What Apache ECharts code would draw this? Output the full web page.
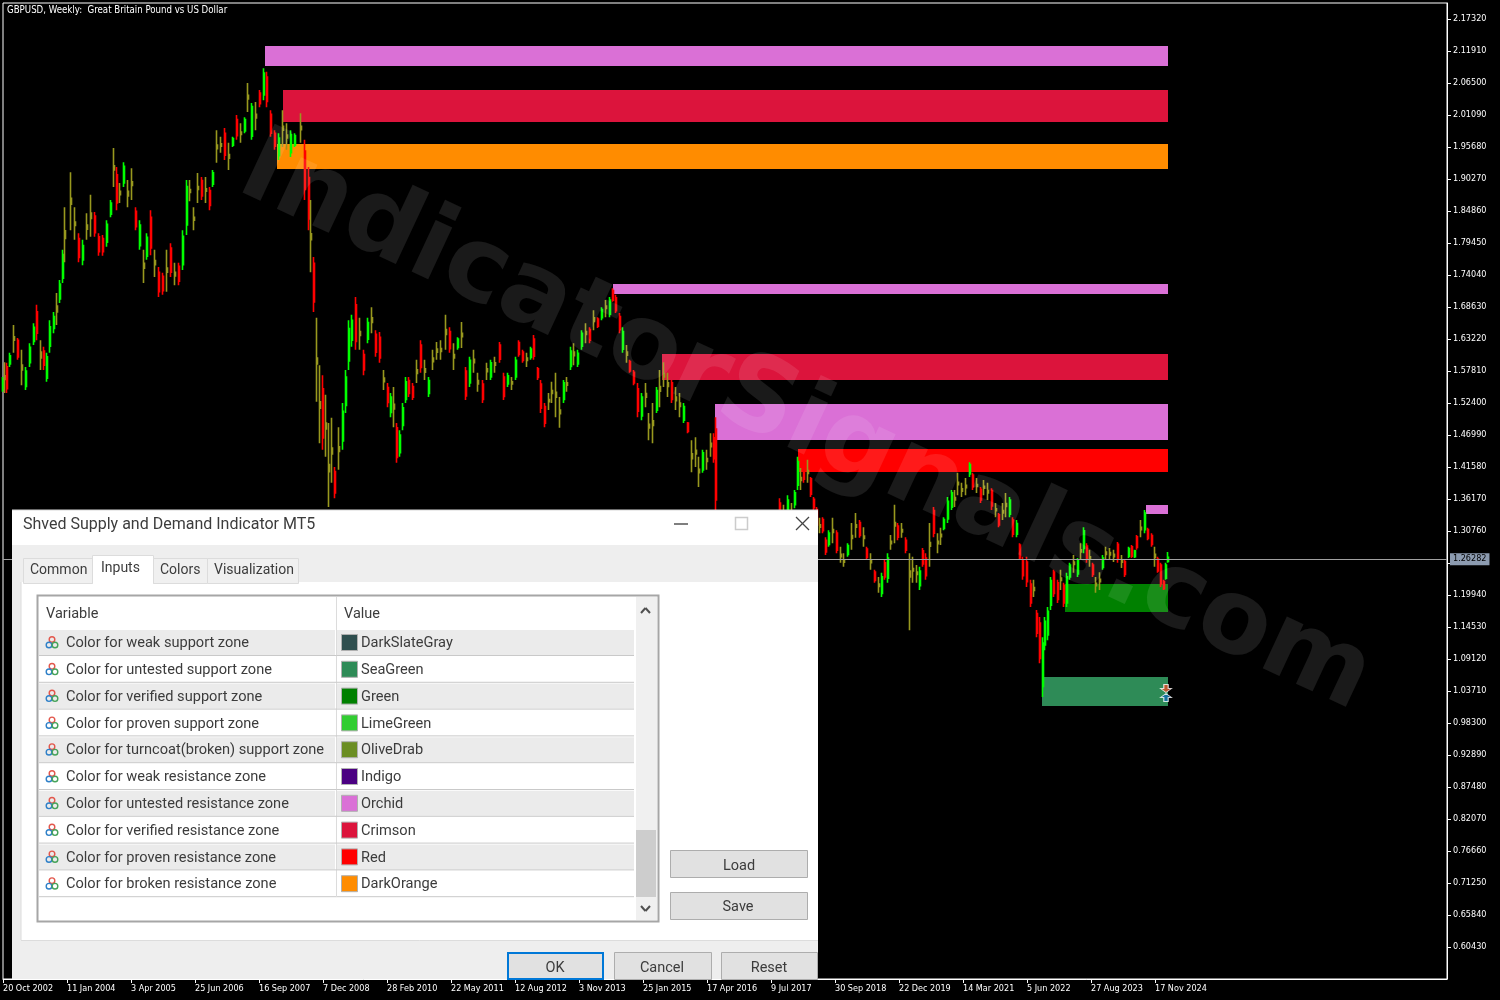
<!doctype html>
<html lang="en">
<head>
    <meta charset="UTF-8">
    <title>GBPUSD Weekly - Shved Supply and Demand</title>
    <style>
        html, body { margin: 0; padding: 0; background: #000; }
        #chart { width: 1500px; height: 1000px; }
    </style>
    <script src="https://cdn.jsdelivr.net/npm/echarts@6/dist/echarts.min.js"></script>
</head>
<body>
<div id="chart"></div>
<script type="text/javascript">
    var chartTitle = 'GBPUSD, Weekly:  Great Britain Pound vs US Dollar';
    var bidPrice = 1.26282;

    // one x unit is one week, the window starts on 20 Oct 2002
    var xTickLabels = ['20 Oct 2002', '11 Jan 2004', '3 Apr 2005', '25 Jun 2006', '16 Sep 2007', '7 Dec 2008', '28 Feb 2010', '22 May 2011', '12 Aug 2012', '3 Nov 2013', '25 Jan 2015', '17 Apr 2016', '9 Jul 2017', '30 Sep 2018', '22 Dec 2019', '14 Mar 2021', '5 Jun 2022', '27 Aug 2023', '17 Nov 2024'];
    var yTickLabels = [2.1732, 2.1191, 2.065, 2.0109, 1.9568, 1.9027, 1.8486, 1.7945, 1.7404, 1.6863, 1.6322, 1.5781, 1.524, 1.4699, 1.4158, 1.3617, 1.3076, 1.2535, 1.1994, 1.1453, 1.0912, 1.0371, 0.983, 0.9289, 0.8748, 0.8207, 0.7666, 0.7125, 0.6584, 0.6043];

    var barWeek = [
        0,2,4,7,11,15,19,23,27,31,
        34,38,41,44,47,51,54,57,60,62,
        68,72,76,80,84,88,92,96,100,104,
        108,111,114,117,121,125,129,133,137,141,
        144,148,152,156,160,164,168,172,176,180,
        184,187,191,195,199,203,207,210,214,218,
        222,226,230,234,238,242,245,249,253,257,
        261,264,268,272,276,280,284,288,292,298,
        302,306,308,311,314,317,320,323,326,329,
        332,336,340,343,346,349,353,357,361,365,
        369,373,377,381,385,388,391,394,397,400,
        403,406,410,414,418,422,426,430,434,438,
        443,447,451,455,459,463,467,471,475,480,
        484,488,492,497,501,505,509,513,516,520,
        524,528,531,535,538,542,546,549,553,557,
        561,564,568,571,575,579,583,587,591,595,
        599,603,607,610,613,617,620,624,627,631,
        635,639,643,646,650,654,657,661,665,669,
        673,677,681,685,689,693,696,700,704,708,
        711,713,717,727,737,747,757,767,773,777,
        781,785,789,792,795,798,801,805,808,811,
        814,817,820,823,826,830,834,838,841,845,
        849,853,857,861,864,868,872,876,879,882,
        885,888,892,895,899,903,907,910,914,917,
        920,923,927,931,935,938,941,945,949,952,
        955,959,963,967,970,974,978,981,985,989,
        993,996,1000,1003,1007,1010,1014,1017,1020,1024,
        1028,1031,1034,1037,1040,1042,1045,1048,1051,1055,
        1058,1061,1064,1067,1071,1075,1078,1081,1084,1087,
        1090,1093,1097,1100,1103,1107,1111,1115,1119,1122,
        1126,1129,1132,1134,1138,1142,1145,1149,1152,1155,
        1158,1161,1163,1165
    ];
    var barHigh = [
        1.568,1.593,1.592,1.609,1.656,1.634,1.614,1.585,1.625,1.659,
        1.690,1.630,1.619,1.609,1.664,1.678,1.710,1.732,1.783,1.855,
        1.914,1.855,1.811,1.800,1.845,1.876,1.847,1.811,1.808,1.833,
        1.867,1.955,1.923,1.896,1.931,1.901,1.921,1.855,1.833,1.783,
        1.811,1.850,1.783,1.754,1.744,1.783,1.794,1.761,1.761,1.816,
        1.901,1.901,1.855,1.913,1.906,1.906,1.889,1.918,1.985,1.974,
        1.989,1.964,1.974,2.011,1.997,2.007,2.065,2.031,2.033,2.053,
        2.090,2.084,2.019,1.985,1.980,2.019,1.997,1.985,1.980,2.014,
        1.969,1.923,1.867,1.771,1.668,1.588,1.571,1.538,1.490,1.499,
        1.416,1.483,1.524,1.580,1.664,1.673,1.703,1.668,1.614,1.668,
        1.686,1.647,1.644,1.580,1.558,1.541,1.551,1.490,1.478,1.524,
        1.568,1.568,1.558,1.597,1.630,1.597,1.568,1.614,1.627,1.630,
        1.673,1.652,1.625,1.635,1.661,1.585,1.602,1.614,1.575,1.563,
        1.592,1.597,1.602,1.627,1.575,1.575,1.568,1.602,1.630,1.614,
        1.609,1.619,1.639,1.585,1.563,1.524,1.541,1.560,1.575,1.534,
        1.563,1.568,1.619,1.625,1.614,1.647,1.659,1.652,1.681,1.669,
        1.686,1.698,1.703,1.718,1.707,1.676,1.652,1.622,1.597,1.580,
        1.558,1.541,1.558,1.507,1.524,1.551,1.580,1.593,1.575,1.563,
        1.551,1.541,1.524,1.492,1.461,1.466,1.433,1.445,1.445,1.473,
        1.473,1.500,1.326,1.292,1.276,1.267,1.259,1.309,1.343,1.363,
        1.352,1.368,1.355,1.377,1.433,1.414,1.423,1.428,1.399,1.365,
        1.348,1.330,1.331,1.297,1.309,1.330,1.309,1.281,1.270,1.287,
        1.321,1.338,1.326,1.314,1.281,1.270,1.242,1.230,1.237,1.259,
        1.270,1.301,1.352,1.321,1.321,1.297,1.270,1.264,1.250,1.247,
        1.279,1.270,1.321,1.348,1.304,1.313,1.331,1.365,1.377,1.377,
        1.406,1.389,1.397,1.424,1.406,1.397,1.382,1.394,1.389,1.380,
        1.355,1.338,1.355,1.372,1.365,1.331,1.326,1.287,1.264,1.264,
        1.225,1.225,1.174,1.162,1.128,1.162,1.179,1.230,1.242,1.225,
        1.242,1.220,1.237,1.254,1.267,1.262,1.287,1.314,1.287,1.276,
        1.254,1.230,1.238,1.267,1.281,1.279,1.276,1.289,1.267,1.259,
        1.281,1.284,1.276,1.301,1.326,1.343,1.313,1.304,1.281,1.264,
        1.254,1.225,1.254,1.272
    ];
    var barLow = [
        1.543,1.541,1.541,1.585,1.609,1.597,1.554,1.546,1.585,1.622,
        1.630,1.580,1.580,1.560,1.609,1.642,1.656,1.693,1.727,1.762,
        1.816,1.800,1.762,1.757,1.800,1.805,1.805,1.773,1.773,1.788,
        1.838,1.889,1.850,1.862,1.889,1.855,1.867,1.816,1.783,1.727,
        1.766,1.774,1.737,1.703,1.707,1.712,1.737,1.723,1.723,1.749,
        1.808,1.865,1.816,1.862,1.867,1.862,1.850,1.889,1.930,1.947,
        1.935,1.918,1.957,1.969,1.964,1.980,2.016,1.969,1.985,2.024,
        2.036,2.024,1.974,1.952,1.935,1.957,1.952,1.940,1.957,1.964,
        1.867,1.816,1.745,1.678,1.526,1.456,1.445,1.433,1.348,1.389,
        1.363,1.411,1.445,1.507,1.580,1.619,1.614,1.614,1.571,1.625,
        1.642,1.602,1.592,1.546,1.517,1.500,1.483,1.423,1.433,1.478,
        1.524,1.534,1.529,1.558,1.575,1.563,1.534,1.580,1.597,1.597,
        1.614,1.609,1.580,1.614,1.617,1.529,1.551,1.575,1.543,1.524,
        1.563,1.563,1.575,1.592,1.529,1.551,1.546,1.563,1.602,1.592,
        1.585,1.597,1.597,1.563,1.507,1.483,1.512,1.524,1.500,1.482,
        1.524,1.543,1.580,1.588,1.585,1.614,1.625,1.625,1.647,1.651,
        1.664,1.669,1.669,1.695,1.676,1.642,1.609,1.592,1.575,1.554,
        1.500,1.495,1.517,1.461,1.456,1.507,1.517,1.551,1.534,1.524,
        1.512,1.500,1.490,1.473,1.407,1.416,1.382,1.406,1.411,1.433,
        1.423,1.343,1.259,1.242,1.225,1.208,1.208,1.259,1.292,1.318,
        1.309,1.309,1.321,1.346,1.377,1.377,1.389,1.389,1.365,1.343,
        1.314,1.304,1.304,1.267,1.281,1.287,1.270,1.254,1.247,1.264,
        1.276,1.296,1.296,1.281,1.259,1.242,1.220,1.203,1.196,1.225,
        1.220,1.276,1.287,1.292,1.296,1.270,1.140,1.220,1.220,1.208,
        1.247,1.225,1.247,1.297,1.270,1.284,1.309,1.321,1.343,1.348,
        1.368,1.365,1.368,1.399,1.377,1.372,1.355,1.368,1.360,1.343,
        1.331,1.314,1.326,1.331,1.331,1.297,1.297,1.259,1.225,1.213,
        1.179,1.196,1.128,1.084,1.027,1.106,1.123,1.174,1.196,1.186,
        1.208,1.179,1.179,1.225,1.237,1.230,1.259,1.270,1.254,1.247,
        1.230,1.203,1.208,1.242,1.259,1.259,1.255,1.254,1.245,1.230,
        1.262,1.262,1.262,1.276,1.297,1.304,1.292,1.281,1.247,1.237,
        1.213,1.208,1.225,1.254
    ];
    var barOpen = [
        1.548,1.570,1.585,1.590,1.636,1.630,1.588,1.552,1.592,1.628,
        1.678,1.610,1.612,1.566,1.620,1.650,1.688,1.700,1.735,1.815,
        1.870,1.830,1.802,1.766,1.825,1.845,1.840,1.805,1.802,1.796,
        1.843,1.925,1.910,1.882,1.896,1.882,1.898,1.848,1.790,1.760,
        1.772,1.838,1.765,1.745,1.738,1.752,1.786,1.745,1.755,1.758,
        1.825,1.885,1.838,1.890,1.900,1.886,1.883,1.894,1.960,1.962,
        1.980,1.944,1.960,2.003,1.982,1.984,2.044,1.975,2.012,2.048,
        2.045,2.075,2.012,1.980,1.942,1.992,1.977,1.947,1.960,1.992,
        1.950,1.905,1.810,1.760,1.600,1.526,1.548,1.490,1.420,1.448,
        1.408,1.450,1.460,1.520,1.595,1.630,1.690,1.645,1.606,1.632,
        1.668,1.640,1.635,1.566,1.550,1.508,1.522,1.482,1.440,1.486,
        1.530,1.562,1.552,1.580,1.622,1.582,1.540,1.600,1.615,1.616,
        1.648,1.645,1.606,1.618,1.642,1.578,1.558,1.598,1.562,1.556,
        1.582,1.568,1.592,1.622,1.568,1.556,1.560,1.568,1.626,1.610,
        1.600,1.601,1.632,1.582,1.556,1.518,1.530,1.545,1.542,1.512,
        1.530,1.558,1.586,1.610,1.590,1.620,1.645,1.648,1.668,1.666,
        1.668,1.688,1.674,1.714,1.702,1.670,1.615,1.610,1.594,1.576,
        1.548,1.502,1.540,1.488,1.494,1.512,1.552,1.574,1.558,1.558,
        1.534,1.524,1.495,1.490,1.438,1.444,1.412,1.411,1.430,1.456,
        1.465,1.480,1.320,1.270,1.252,1.240,1.215,1.265,1.298,1.355,
        1.334,1.316,1.340,1.352,1.385,1.398,1.418,1.410,1.396,1.361,
        1.344,1.318,1.327,1.292,1.285,1.310,1.304,1.268,1.259,1.268,
        1.300,1.318,1.322,1.299,1.277,1.258,1.238,1.218,1.202,1.254,
        1.228,1.290,1.322,1.316,1.310,1.292,1.240,1.244,1.238,1.215,
        1.274,1.262,1.288,1.342,1.290,1.302,1.312,1.328,1.348,1.364,
        1.390,1.379,1.385,1.404,1.402,1.386,1.378,1.383,1.376,1.376,
        1.345,1.335,1.342,1.354,1.336,1.326,1.302,1.284,1.258,1.255,
        1.218,1.212,1.168,1.152,1.045,1.115,1.132,1.182,1.238,1.220,
        1.228,1.216,1.186,1.230,1.255,1.235,1.276,1.278,1.282,1.264,
        1.250,1.219,1.226,1.246,1.272,1.271,1.268,1.285,1.258,1.256,
        1.265,1.281,1.264,1.298,1.314,1.310,1.310,1.300,1.268,1.260,
        1.250,1.222,1.228,1.256
    ];
    var barClose = [
        1.562,1.564,1.548,1.604,1.630,1.602,1.580,1.578,1.618,1.652,
        1.642,1.600,1.588,1.602,1.653,1.670,1.678,1.725,1.775,1.802,
        1.860,1.824,1.770,1.790,1.818,1.836,1.812,1.780,1.780,1.826,
        1.862,1.918,1.862,1.876,1.924,1.874,1.892,1.822,1.825,1.752,
        1.804,1.786,1.758,1.712,1.714,1.745,1.745,1.739,1.730,1.806,
        1.890,1.880,1.833,1.885,1.874,1.882,1.858,1.913,1.954,1.958,
        1.943,1.938,1.971,1.976,1.978,2.003,2.038,2.025,2.006,2.030,
        2.082,2.034,1.980,1.958,1.972,1.985,1.972,1.978,1.976,1.986,
        1.885,1.835,1.800,1.695,1.590,1.515,1.465,1.480,1.408,1.438,
        1.372,1.442,1.510,1.568,1.650,1.664,1.628,1.638,1.580,1.660,
        1.660,1.610,1.600,1.560,1.525,1.534,1.514,1.432,1.470,1.516,
        1.560,1.540,1.534,1.574,1.584,1.576,1.562,1.594,1.610,1.611,
        1.640,1.616,1.600,1.632,1.636,1.536,1.596,1.592,1.556,1.530,
        1.577,1.592,1.588,1.598,1.535,1.570,1.556,1.596,1.606,1.596,
        1.596,1.615,1.603,1.567,1.515,1.490,1.526,1.540,1.534,1.506,
        1.558,1.554,1.612,1.604,1.608,1.642,1.640,1.630,1.662,1.654,
        1.682,1.684,1.698,1.698,1.680,1.648,1.645,1.605,1.578,1.558,
        1.510,1.534,1.534,1.482,1.486,1.545,1.544,1.568,1.552,1.530,
        1.528,1.518,1.518,1.476,1.430,1.438,1.406,1.440,1.425,1.450,
        1.430,1.360,1.266,1.265,1.247,1.234,1.250,1.300,1.335,1.326,
        1.329,1.360,1.336,1.372,1.425,1.393,1.395,1.405,1.370,1.347,
        1.318,1.314,1.308,1.272,1.304,1.305,1.275,1.264,1.255,1.283,
        1.295,1.314,1.300,1.295,1.263,1.254,1.224,1.214,1.230,1.230,
        1.262,1.286,1.316,1.297,1.306,1.275,1.230,1.240,1.234,1.240,
        1.252,1.232,1.282,1.304,1.286,1.298,1.327,1.358,1.372,1.360,
        1.386,1.375,1.381,1.420,1.382,1.383,1.360,1.380,1.372,1.350,
        1.342,1.318,1.338,1.349,1.360,1.302,1.320,1.262,1.232,1.222,
        1.186,1.207,1.135,1.092,1.118,1.155,1.172,1.224,1.202,1.192,
        1.224,1.186,1.230,1.250,1.251,1.258,1.272,1.308,1.260,1.260,
        1.234,1.215,1.222,1.262,1.268,1.267,1.264,1.260,1.255,1.234,
        1.278,1.265,1.274,1.280,1.310,1.338,1.295,1.285,1.263,1.240,
        1.218,1.210,1.250,1.263
    ];

    // supply and demand zones
    var zoneStart = [262, 280, 274, 610, 659, 712, 795, 1143, 1062, 1039];
    var zoneEnd = [1165, 1165, 1165, 1165, 1165, 1165, 1165, 1165, 1165, 1165];
    var zoneTop = [2.1276, 2.0532, 1.9619, 1.7252, 1.6068, 1.5223, 1.4462, 1.3516, 1.2180, 1.0608];
    var zoneBottom = [2.0937, 1.9991, 1.9196, 1.7083, 1.5629, 1.4614, 1.4073, 1.3363, 1.1707, 1.0117];
    var zoneColorName = ['Orchid', 'Crimson', 'DarkOrange', 'Orchid', 'Crimson', 'Orchid', 'Red', 'Orchid', 'Green', 'SeaGreen'];

    // the two arrows on the last bar
    var arrowWeek = [1163, 1163];
    var arrowPrice = [1.0413, 1.0261];

    // dialog content
    var tabNames = ['Common', 'Inputs', 'Colors', 'Visualization'];
    var inputNames = ['Color for weak support zone', 'Color for untested support zone', 'Color for verified support zone', 'Color for proven support zone', 'Color for turncoat(broken) support zone', 'Color for weak resistance zone', 'Color for untested resistance zone', 'Color for verified resistance zone', 'Color for proven resistance zone', 'Color for broken resistance zone'];
    var inputValues = ['DarkSlateGray', 'SeaGreen', 'Green', 'LimeGreen', 'OliveDrab', 'Indigo', 'Orchid', 'Crimson', 'Red', 'DarkOrange'];

    var namedColors = {
        DarkSlateGray: '#2f4f4f', SeaGreen: '#2e8b57', Green: '#008000', LimeGreen: '#32cd32', OliveDrab: '#6b8e23',
        Indigo: '#4b0082', Orchid: '#da70d6', Crimson: '#dc143c', Red: '#ff0000', DarkOrange: '#ff8c00'
    };
    var axisFont = '"DejaVu Sans Condensed", "Liberation Sans", sans-serif';
    var dialogFont = 'Roboto, "Noto Sans", sans-serif';

    //candles: small bodies come out olive, like the red and green blur in the screenshot
    var candleData = barWeek.map(function (week, i) {
        var item = { value: [week, barOpen[i], barClose[i], barLow[i], barHigh[i]] };
        if (Math.abs(barClose[i] - barOpen[i]) < 0.25 * (barHigh[i] - barLow[i])) {
            item.itemStyle = { color: '#98981e', color0: '#98981e', borderColor: '#98981e', borderColor0: '#98981e' };
        }
        return item;
    });

    var zoneData = zoneStart.map(function (start, i) {
        return [start, zoneEnd[i], zoneTop[i], zoneBottom[i], i];
    });

    var renderZone = function (params, api) {
        var p1 = api.coord([api.value(0), api.value(2)]);
        var p2 = api.coord([api.value(1), api.value(3)]);
        return {
            type: 'rect',
            shape: { x: p1[0], y: p1[1], width: p2[0] - p1[0], height: p2[1] - p1[1] },
            style: { fill: namedColors[zoneColorName[api.value(4)]] }
        };
    };

    //dialog elements
    var dialog = [];
    var addRect = function (x, y, w, h, fill, stroke, lineWidth) {
        dialog.push({
            type: 'rect', z: 100, silent: true,
            shape: { x: x, y: y, width: w, height: h },
            style: { fill: fill || 'none', stroke: stroke || 'none', lineWidth: lineWidth || 1 }
        });
    };
    var addLine = function (x1, y1, x2, y2, stroke, lineWidth) {
        dialog.push({
            type: 'line', z: 100, silent: true,
            shape: { x1: x1, y1: y1, x2: x2, y2: y2 },
            style: { stroke: stroke, lineWidth: lineWidth || 1 }
        });
    };
    var addText = function (x, y, text, size, align) {
        dialog.push({
            type: 'text', z: 101, silent: true, x: x, y: y,
            style: { text: text, fill: '#3c3c3c', font: size + 'px ' + dialogFont, textAlign: align || 'left', textVerticalAlign: 'middle' }
        });
    };
    var addRing = function (cx, cy, color) {
        dialog.push({
            type: 'circle', z: 101, silent: true,
            shape: { cx: cx, cy: cy, r: 2.8 },
            style: { fill: 'none', stroke: color, lineWidth: 1.4 }
        });
    };

    //window frame
    addRect(12, 510, 806, 469, '#ffffff');
    addLine(12, 510, 818, 510, '#d8d8d8', 1);
    addRect(12, 545, 806, 37, '#eeeeee');
    addRect(12, 582, 9, 397, '#eeeeee');
    addRect(21, 582, 797, 358, '#ffffff');
    addLine(21, 582, 21, 940, '#dcdcdc', 1);
    addRect(12, 940, 806, 39, '#eeeeee');
    addLine(21, 940.5, 818, 940.5, '#dcdcdc', 1);
    addText(23, 525, 'Shved Supply and Demand Indicator MT5', 16);
    addLine(674, 524, 688, 524, '#555555', 1.5);
    addRect(735.5, 517.5, 12, 12, '#ffffff', '#cccccc', 1.5);
    addLine(796, 517, 809, 530, '#444444', 1.3);
    addLine(809, 517, 796, 530, '#444444', 1.3);

    //tabs
    var tabLeft = [23, 92, 153, 207];
    var tabRight = [92, 153, 207, 298];
    tabNames.forEach(function (name, i) {
        var active = i === 1;
        var top = active ? 555 : 558;
        addRect(tabLeft[i] + 0.5, top + 0.5, tabRight[i] - tabLeft[i], 583 - top, active ? '#ffffff' : '#f0f0f0', '#dcdcdc');
        addText(tabLeft[i] + (active ? 9 : 7), active ? 568.5 : 570.5, name, 14);
    });
    addRect(93, 581, 60, 4, '#ffffff');

    //inputs table
    addRect(37.5, 595.5, 621, 326, '#ffffff', '#a6a6a6', 2);
    addText(46, 614, 'Variable', 14.5);
    addText(344, 614, 'Value', 14.5);
    addLine(336.5, 597, 336.5, 896, '#dcdcdc', 1);
    inputNames.forEach(function (name, i) {
        var top = 630 + i * 26.8;
        var mid = top + 12.5;
        if (i % 2 === 0) {
            addRect(39, top, 296, 25, '#ebebeb');
            addRect(337, top, 297, 25, '#ebebeb');
        }
        addLine(39, top + 25.5, 634, top + 25.5, '#c9c9c9', 1);
        addRing(52, mid - 3, '#e2574c');
        addRing(49, mid + 2.5, '#2f80c8');
        addRing(55, mid + 2.5, '#46a35a');
        addText(66, mid + 1, name, 14.6);
        addRect(341.5, mid - 8, 16, 16, namedColors[inputValues[i]], '#b0b0b0');
        addText(361, mid + 1, inputValues[i], 14.6);
    });

    //scrollbar
    addRect(636, 597, 21, 323, '#f0f0f0');
    addRect(636, 830, 20, 67, '#cdcdcd');
    addLine(641, 613, 645.5, 608, '#505050', 2);
    addLine(645.5, 608, 650, 613, '#505050', 2);
    addLine(641, 906, 645.5, 911, '#505050', 2);
    addLine(645.5, 911, 650, 906, '#505050', 2);

    //buttons
    addRect(670.5, 850.5, 137, 27, '#e1e1e1', '#adadad');
    addText(739, 866, 'Load', 14.5, 'center');
    addRect(670.5, 892.5, 137, 27, '#e1e1e1', '#adadad');
    addText(738, 907.5, 'Save', 14.5, 'center');
    addRect(508, 953, 95, 26, '#e1e1e1', '#0078d7', 2);
    addText(555, 968, 'OK', 14.5, 'center');
    addRect(614.5, 952.5, 97, 27, '#e1e1e1', '#adadad');
    addText(662, 968, 'Cancel', 14.5, 'center');
    addRect(721.5, 952.5, 96, 27, '#e1e1e1', '#adadad');
    addText(769, 968, 'Reset', 14.5, 'center');

    //watermark sits over the candles and under the dialog
    var watermark = {
        type: 'text', z: 50, silent: true, x: 805, y: 425, rotation: -25 * Math.PI / 180,
        style: {
            text: 'IndicatorSignals.com', fill: 'rgba(255,255,255,0.1)',
            font: 'bold 104px "DejaVu Sans"', textAlign: 'center', textVerticalAlign: 'middle'
        }
    };

    var myChart = echarts.init(document.getElementById('chart'));
    myChart.setOption({
        animation: false,
        backgroundColor: '#000',
        title: {
            text: chartTitle, left: 7, top: 5, padding: 0,
            textStyle: { color: '#fff', fontFamily: axisFont, fontSize: 9.6, fontWeight: 'normal' }
        },
        grid: { left: 3, top: 3, width: 1444, height: 976, show: true, borderColor: '#fff', borderWidth: 1, backgroundColor: 'transparent' },
        xAxis: {
            type: 'value', min: 0, max: 1444, splitLine: { show: false },
            axisLine: { onZero: false, lineStyle: { color: '#fff' } },
            axisTick: { length: 4, lineStyle: { color: '#fff' }, customValues: xTickLabels.map(function (t, i) { return i * 64; }) },
            axisLabel: {
                color: '#fff', fontFamily: axisFont, fontSize: 9, align: 'left', margin: 5,
                customValues: xTickLabels.map(function (t, i) { return i * 64; }),
                formatter: function (v) { return xTickLabels[v / 64]; }
            }
        },
        yAxis: {
            type: 'value', position: 'right', min: 0.5502, max: 2.20025, splitLine: { show: false },
            axisLine: { show: true, onZero: false, lineStyle: { color: '#fff' } },
            axisTick: { show: true, length: 4, lineStyle: { color: '#fff' }, customValues: yTickLabels },
            axisLabel: {
                color: '#fff', fontFamily: axisFont, fontSize: 9, margin: 6, padding: [2, 0, 0, 0],
                customValues: yTickLabels,
                formatter: function (v) { return v.toFixed(5); }
            }
        },
        series: [
            {
                type: 'custom', z: 1, silent: true, renderItem: renderZone, data: zoneData,
                encode: { x: [0, 1], y: [2, 3] }
            },
            {
                type: 'candlestick', z: 2, silent: true, barWidth: 2, data: candleData,
                itemStyle: { color: '#00ff00', color0: '#ff0000', borderColor: '#00ff00', borderColor0: '#ff0000', borderWidth: 1.6 },
                markLine: {
                    silent: true, symbol: 'none', animation: false,
                    lineStyle: { color: '#a0a0a0', type: 'solid', width: 1 },
                    data: [{ yAxis: bidPrice }],
                    label: {
                        position: 'end', distance: 3, formatter: bidPrice.toFixed(5), color: '#000',
                        backgroundColor: '#8c9bb0', padding: [2, 3, 1, 3], fontFamily: axisFont, fontSize: 9
                    }
                }
            },
            {
                type: 'scatter', z: 3, silent: true, symbolSize: [11, 8],
                itemStyle: { borderColor: '#fff', borderWidth: 1 },
                data: [
                    { value: [arrowWeek[0], arrowPrice[0]], symbol: 'path://M5 0 L10 5 L7 5 L7 10 L3 10 L3 5 L0 5 Z', symbolRotate: 180, itemStyle: { color: '#e04a26' } },
                    { value: [arrowWeek[1], arrowPrice[1]], symbol: 'path://M5 0 L10 5 L7 5 L7 10 L3 10 L3 5 L0 5 Z', itemStyle: { color: '#0f6cb0' } }
                ]
            }
        ],
        graphic: { elements: [watermark].concat(dialog) }
    });
</script>
</body>
</html>
